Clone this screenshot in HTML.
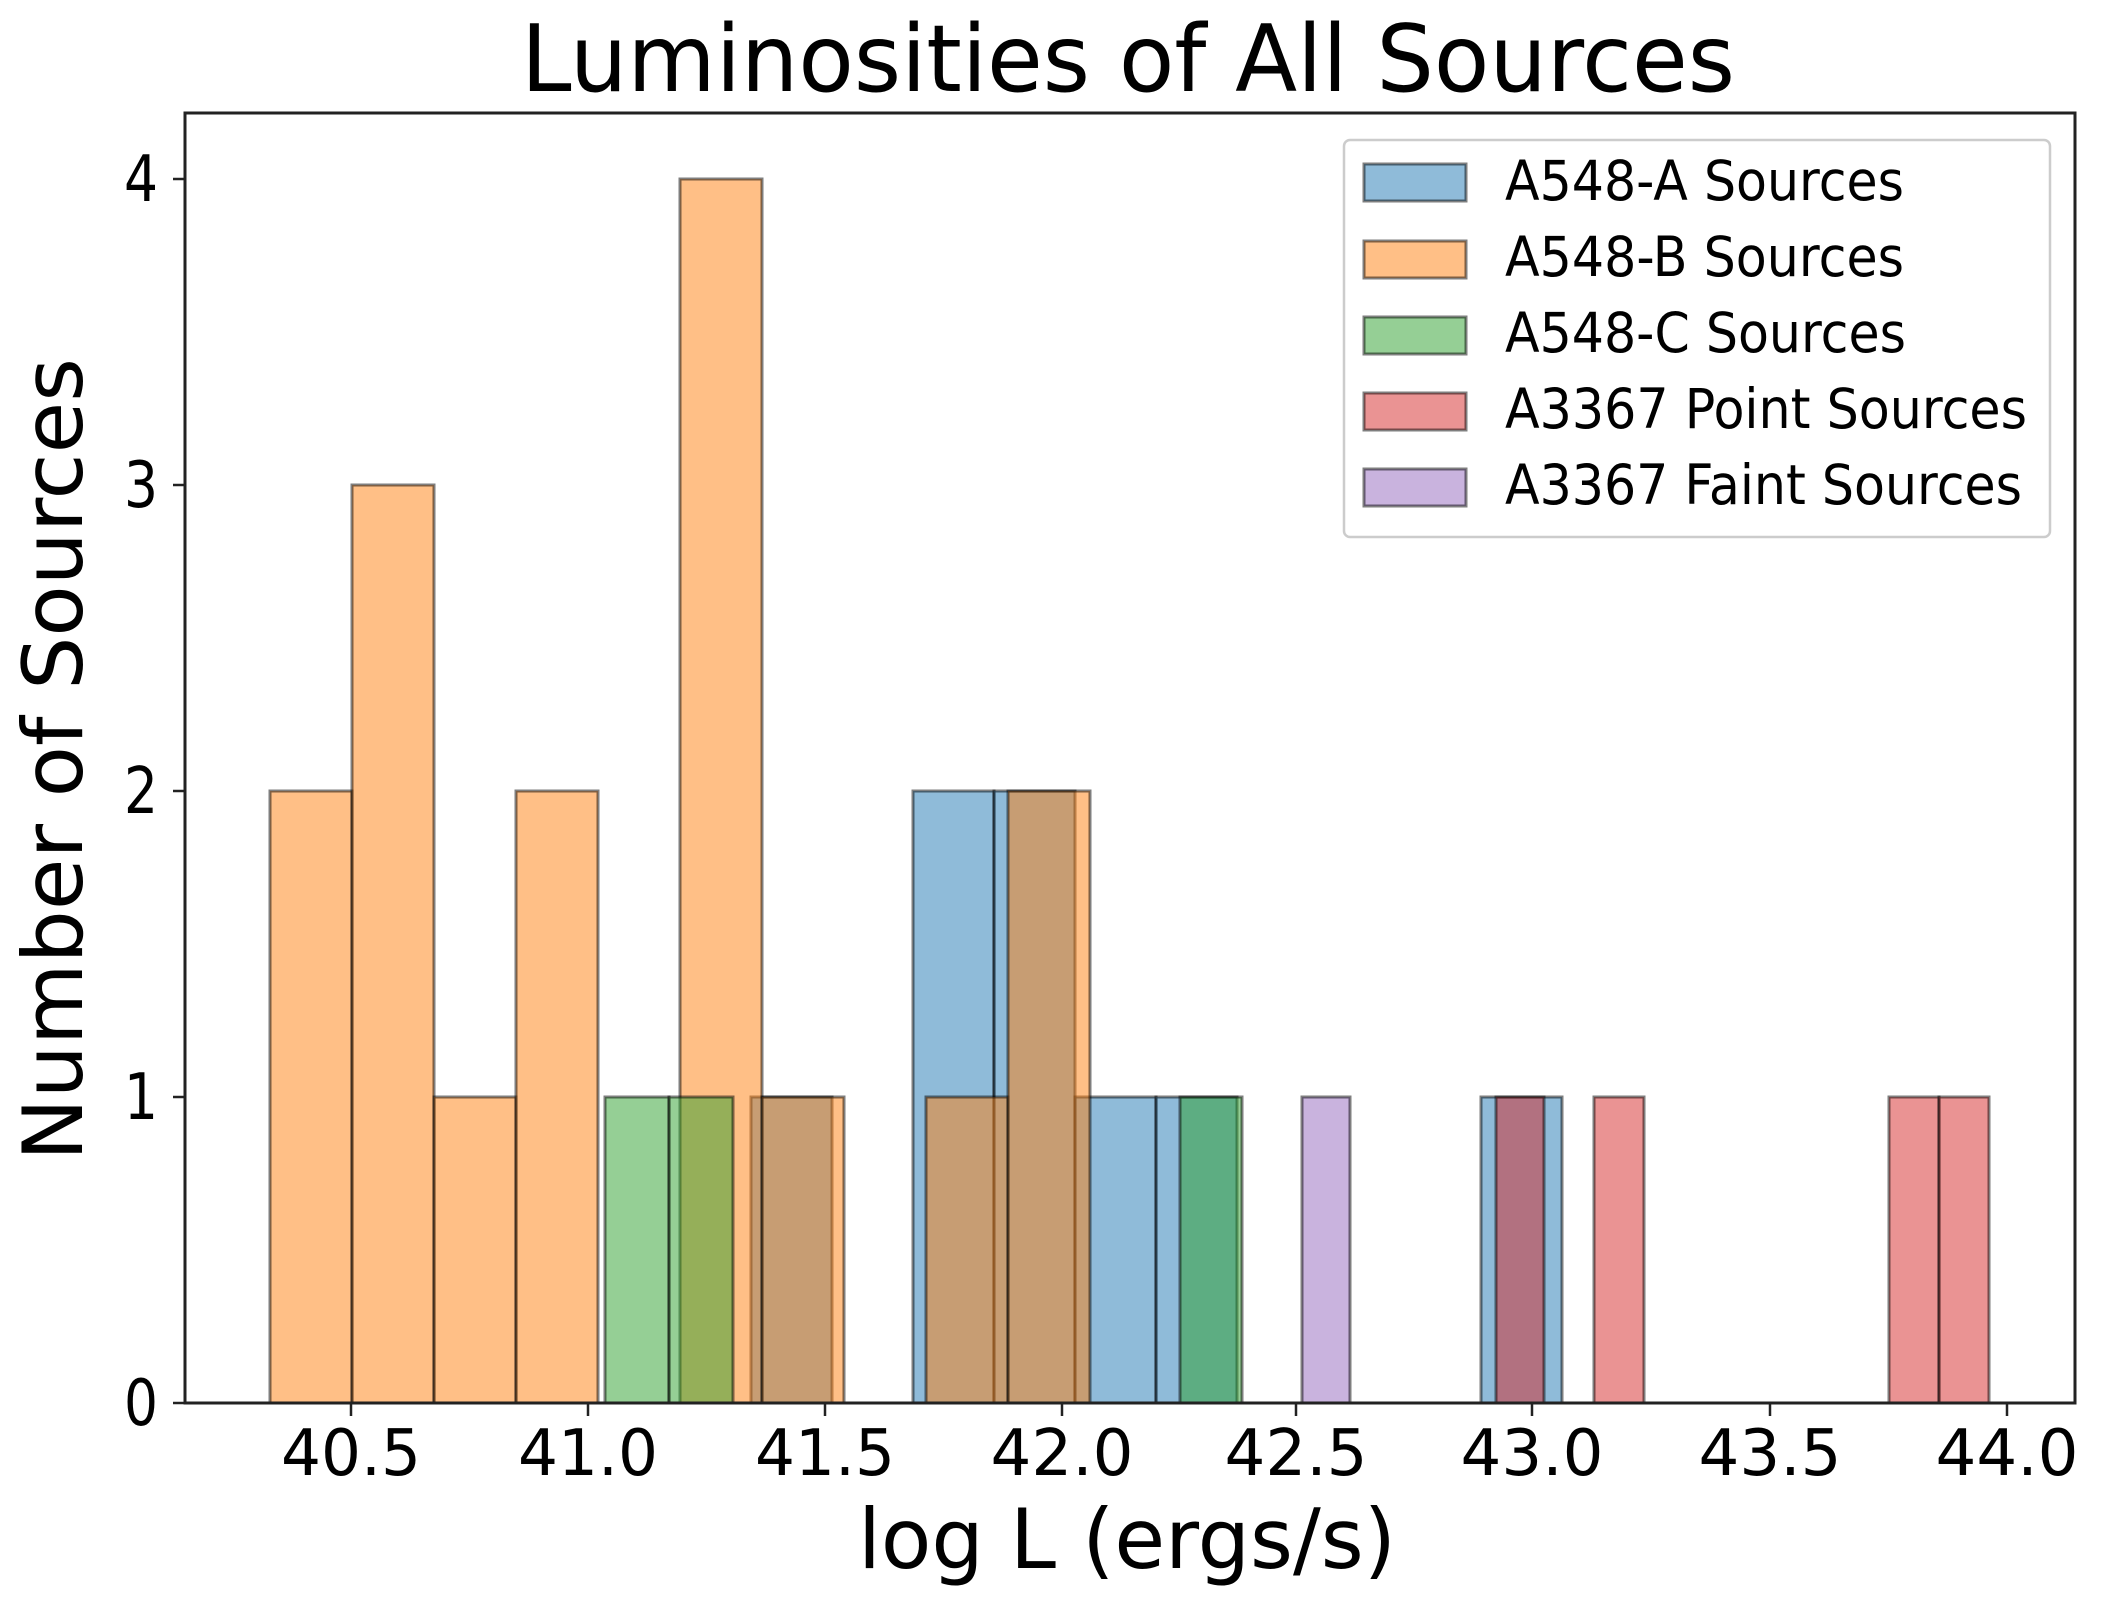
<!DOCTYPE html>
<html><head><meta charset="utf-8"><style>
html,body{margin:0;padding:0;background:#fff;}
svg{display:block;}
text{font-family:"DejaVu Sans","Liberation Sans",sans-serif;fill:#000;}
</style></head><body>
<svg width="2106" height="1601" viewBox="0 0 2106 1601" xmlns="http://www.w3.org/2000/svg">
<rect width="2106" height="1601" fill="#fff"/>
<g stroke="#000" stroke-opacity="0.5" stroke-width="3">
<!-- A548-A blue -->
<g fill="#1f77b4" fill-opacity="0.5">
<rect x="751" y="1097" width="81" height="306"/>
<rect x="913" y="791" width="81" height="612"/>
<rect x="994" y="791" width="81" height="612"/>
<rect x="1075" y="1097" width="81" height="306"/>
<rect x="1156" y="1097" width="81" height="306"/>
<rect x="1481" y="1097" width="81" height="306"/>
</g>
<!-- A548-B orange -->
<g fill="#ff7f0e" fill-opacity="0.5">
<rect x="270" y="791" width="82" height="612"/>
<rect x="352" y="485" width="82" height="918"/>
<rect x="434" y="1097" width="82" height="306"/>
<rect x="516" y="791" width="82" height="612"/>
<rect x="680" y="179" width="82" height="1224"/>
<rect x="762" y="1097" width="82" height="306"/>
<rect x="926" y="1097" width="82" height="306"/>
<rect x="1008" y="791" width="82" height="612"/>
</g>
<!-- A548-C green -->
<g fill="#2ca02c" fill-opacity="0.5">
<rect x="605" y="1097" width="64" height="306"/>
<rect x="669" y="1097" width="64" height="306"/>
<rect x="1180" y="1097" width="62" height="306"/>
</g>
<!-- A3367 point red -->
<g fill="#d62728" fill-opacity="0.5">
<rect x="1496" y="1097" width="48" height="306"/>
<rect x="1594" y="1097" width="50" height="306"/>
<rect x="1889" y="1097" width="50" height="306"/>
<rect x="1939" y="1097" width="50" height="306"/>
</g>
<!-- faint purple -->
<g fill="#9467bd" fill-opacity="0.5">
<rect x="1302" y="1097" width="48" height="306"/>
</g>
</g>
<!-- axes frame -->
<rect x="185" y="113" width="1890" height="1290" fill="none" stroke="#222" stroke-width="3"/>
<!-- ticks -->
<g stroke="#222" stroke-width="2.5">
<line x1="351" y1="1403" x2="351" y2="1416"/>
<line x1="588" y1="1403" x2="588" y2="1416"/>
<line x1="825" y1="1403" x2="825" y2="1416"/>
<line x1="1062" y1="1403" x2="1062" y2="1416"/>
<line x1="1296" y1="1403" x2="1296" y2="1416"/>
<line x1="1532" y1="1403" x2="1532" y2="1416"/>
<line x1="1770" y1="1403" x2="1770" y2="1416"/>
<line x1="2007" y1="1403" x2="2007" y2="1416"/>
<line x1="173" y1="1403" x2="185" y2="1403"/>
<line x1="173" y1="1097" x2="185" y2="1097"/>
<line x1="173" y1="791" x2="185" y2="791"/>
<line x1="173" y1="485" x2="185" y2="485"/>
<line x1="173" y1="179" x2="185" y2="179"/>
</g>
<g font-size="64" text-anchor="middle">
<text x="351" y="1475" textLength="140" lengthAdjust="spacingAndGlyphs">40.5</text>
<text x="588" y="1475" textLength="140" lengthAdjust="spacingAndGlyphs">41.0</text>
<text x="825" y="1475" textLength="140" lengthAdjust="spacingAndGlyphs">41.5</text>
<text x="1062" y="1475" textLength="143" lengthAdjust="spacingAndGlyphs">42.0</text>
<text x="1296" y="1475" textLength="143" lengthAdjust="spacingAndGlyphs">42.5</text>
<text x="1532" y="1475" textLength="143" lengthAdjust="spacingAndGlyphs">43.0</text>
<text x="1770" y="1475" textLength="143" lengthAdjust="spacingAndGlyphs">43.5</text>
<text x="2007" y="1475" textLength="143" lengthAdjust="spacingAndGlyphs">44.0</text>
</g>
<g font-size="64" text-anchor="end">
<text x="158" y="1425" textLength="34" lengthAdjust="spacingAndGlyphs">0</text>
<text x="158" y="1119" textLength="34" lengthAdjust="spacingAndGlyphs">1</text>
<text x="158" y="813" textLength="34" lengthAdjust="spacingAndGlyphs">2</text>
<text x="158" y="507" textLength="34" lengthAdjust="spacingAndGlyphs">3</text>
<text x="158" y="201" textLength="34" lengthAdjust="spacingAndGlyphs">4</text>
</g>
<text x="521" y="91" font-size="93" textLength="1214" lengthAdjust="spacingAndGlyphs">Luminosities of All Sources</text>
<text x="858" y="1568" font-size="83" textLength="538" lengthAdjust="spacingAndGlyphs">log L (ergs/s)</text>
<text transform="translate(82,1161) rotate(-90)" font-size="83" textLength="803" lengthAdjust="spacingAndGlyphs">Number of Sources</text>
<!-- legend -->
<rect x="1344" y="140" width="706" height="397" rx="6" fill="#fff" fill-opacity="0.8" stroke="#ccc" stroke-width="2.5"/>
<g stroke="#000" stroke-opacity="0.5" stroke-width="3">
<rect x="1364" y="164" width="102" height="37" fill="#1f77b4" fill-opacity="0.5"/>
<rect x="1364" y="241" width="102" height="37" fill="#ff7f0e" fill-opacity="0.5"/>
<rect x="1364" y="317" width="102" height="37" fill="#2ca02c" fill-opacity="0.5"/>
<rect x="1364" y="393" width="102" height="37" fill="#d62728" fill-opacity="0.5"/>
<rect x="1364" y="469" width="102" height="37" fill="#9467bd" fill-opacity="0.5"/>
</g>
<g font-size="55">
<text x="1505" y="200" textLength="399" lengthAdjust="spacingAndGlyphs">A548-A Sources</text>
<text x="1505" y="276" textLength="399" lengthAdjust="spacingAndGlyphs">A548-B Sources</text>
<text x="1505" y="352" textLength="401" lengthAdjust="spacingAndGlyphs">A548-C Sources</text>
<text x="1505" y="428" textLength="522" lengthAdjust="spacingAndGlyphs">A3367 Point Sources</text>
<text x="1505" y="504" textLength="517" lengthAdjust="spacingAndGlyphs">A3367 Faint Sources</text>
</g>
</svg>
</body></html>
